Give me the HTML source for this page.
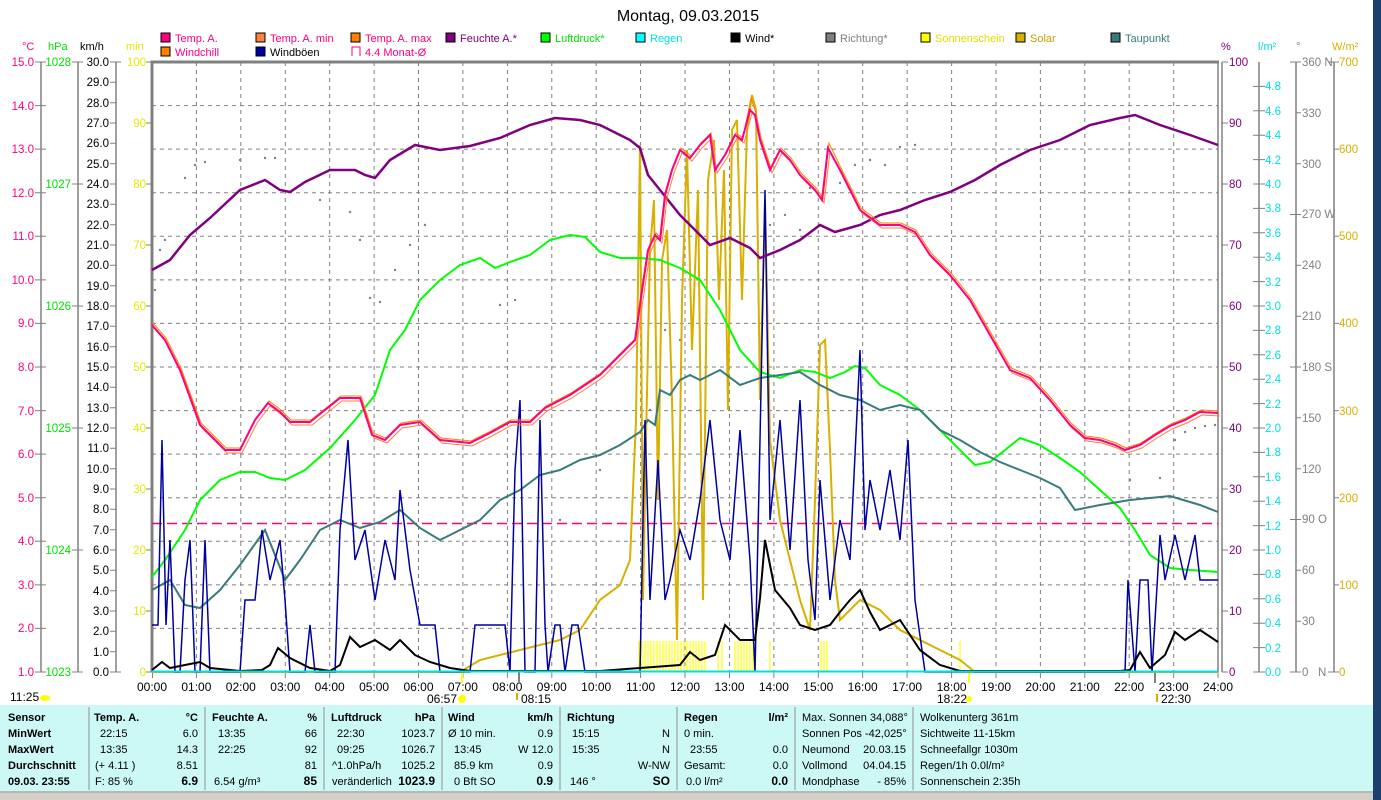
<!DOCTYPE html>
<html><head><meta charset="utf-8"><style>
html,body{margin:0;padding:0;background:#fff;}
svg{display:block;font-family:"Liberation Sans",sans-serif;}
</style></head><body>
<svg width="1381" height="800" viewBox="0 0 1381 800" xmlns="http://www.w3.org/2000/svg">
<rect x="0" y="0" width="1381" height="800" fill="#fff"/>
<rect x="1373" y="0" width="8" height="800" fill="#1d3f6e"/>
<text x="688" y="21" font-size="16" text-anchor="middle" fill="#000">Montag, 09.03.2015</text>
<g font-size="11">
<rect x="161" y="33" width="9" height="9" fill="#ff0080" stroke="#000"/><text x="175" y="42" fill="#ff0080">Temp. A.</text>
<rect x="256" y="33" width="9" height="9" fill="#ff8040" stroke="#000"/><text x="270" y="42" fill="#ff0080">Temp. A. min</text>
<rect x="351" y="33" width="9" height="9" fill="#ff8000" stroke="#000"/><text x="365" y="42" fill="#ff0080">Temp. A. max</text>
<rect x="446" y="33" width="9" height="9" fill="#800080" stroke="#000"/><text x="460" y="42" fill="#800080">Feuchte A.*</text>
<rect x="541" y="33" width="9" height="9" fill="#00ff00" stroke="#000"/><text x="555" y="42" fill="#00e000">Luftdruck*</text>
<rect x="636" y="33" width="9" height="9" fill="#00ffff" stroke="#000"/><text x="650" y="42" fill="#00e0e0">Regen</text>
<rect x="731" y="33" width="9" height="9" fill="#000" stroke="#000"/><text x="745" y="42" fill="#000">Wind*</text>
<rect x="826" y="33" width="9" height="9" fill="#808080" stroke="#000"/><text x="840" y="42" fill="#808080">Richtung*</text>
<rect x="921" y="33" width="9" height="9" fill="#ffff00" stroke="#000"/><text x="935" y="42" fill="#e0e000">Sonnenschein</text>
<rect x="1016" y="33" width="9" height="9" fill="#d8b000" stroke="#000"/><text x="1030" y="42" fill="#c8a000">Solar</text>
<rect x="1111" y="33" width="9" height="9" fill="#3a7a7a" stroke="#000"/><text x="1125" y="42" fill="#3a7a7a">Taupunkt</text>
<rect x="161" y="47" width="9" height="9" fill="#ff8000" stroke="#000"/><text x="175" y="56" fill="#ff0080">Windchill</text>
<rect x="256" y="47" width="9" height="9" fill="#0000a0" stroke="#000"/><text x="270" y="56" fill="#000">Windböen</text>
<path d="M352 56 V47 H360 V56" fill="none" stroke="#ff0080"/><text x="365" y="56" fill="#ff0080">4.4 Monat-Ø</text>
</g>
<g font-size="11">
<text x="22" y="50" fill="#ff0080">°C</text>
<text x="48" y="50" fill="#00e000">hPa</text>
<text x="80" y="50" fill="#000">km/h</text>
<text x="126" y="50" fill="#e8e800">min</text>
<text x="1221" y="50" fill="#800080">%</text>
<text x="1258" y="50" fill="#00e0e0">l/m²</text>
<text x="1296" y="50" fill="#808080">°</text>
<text x="1332" y="50" fill="#d8b000">W/m²</text>
</g>
<g stroke="#808080" stroke-dasharray="4,4" stroke-width="1">
<path d="M152 105.6H1218M152 149.1H1218M152 192.7H1218M152 236.3H1218M152 279.9H1218M152 323.4H1218M152 367H1218M152 410.6H1218M152 454.1H1218M152 497.7H1218M152 541.3H1218M152 584.9H1218M152 628.4H1218"/>
<path d="M196.4 62V672M240.8 62V672M285.3 62V672M329.7 62V672M374.1 62V672M418.5 62V672M462.9 62V672M507.4 62V672M551.8 62V672M596.2 62V672M640.6 62V672M685 62V672M729.5 62V672M773.9 62V672M818.3 62V672M862.7 62V672M907.1 62V672M951.6 62V672M996 62V672M1040.4 62V672M1084.8 62V672M1129.2 62V672M1173.7 62V672"/>
</g>
<path d="M152 672V62H1219" fill="none" stroke="#808080" stroke-width="3"/>
<path d="M1218 62V672M1222 62V672" stroke="#808080" stroke-width="1.5"/>
<g stroke="#808080" stroke-width="1.5" fill="none">
<path d="M41 62V672M78 62V672M116 62V672"/>
<path d="M1259 62V672M1296 62V672M1334 62V672"/>
</g>
<g font-size="11.5" fill="#ff0080" text-anchor="end">
<text x="34" y="66">15.0</text><text x="34" y="110">14.0</text><text x="34" y="153">13.0</text><text x="34" y="197">12.0</text><text x="34" y="240">11.0</text><text x="34" y="284">10.0</text><text x="34" y="327">9.0</text><text x="34" y="371">8.0</text><text x="34" y="415">7.0</text><text x="34" y="458">6.0</text><text x="34" y="502">5.0</text><text x="34" y="545">4.0</text><text x="34" y="589">3.0</text><text x="34" y="632">2.0</text><text x="34" y="676">1.0</text>
</g>
<g stroke="#808080"><path d="M35 62H46M35 105.6H46M35 149.1H46M35 192.7H46M35 236.3H46M35 279.9H46M35 323.4H46M35 367H46M35 410.6H46M35 454.1H46M35 497.7H46M35 541.3H46M35 584.9H46M35 628.4H46M35 672H46"/>
<path d="M72 62H83M72 184H83M72 306H83M72 428H83M72 550H83M72 672H83"/>
<path d="M110 62H121M110 82.3H116M110 102.7H116M110 123H116M110 143.3H116M110 163.7H116M110 184H116M110 204.3H116M110 224.7H116M110 245H116M110 265.3H116M110 285.7H116M110 306H116M110 326.3H116M110 346.7H116M110 367H116M110 387.3H116M110 407.7H116M110 428H116M110 448.3H116M110 468.7H116M110 489H116M110 509.3H116M110 529.7H116M110 550H116M110 570.3H116M110 590.7H116M110 611H116M110 631.3H116M110 651.7H116M110 672H121"/>
<path d="M146 62H152M146 123H152M146 184H152M146 245H152M146 306H152M146 367H152M146 428H152M146 489H152M146 550H152M146 611H152M146 672H152"/>
<path d="M1222 62H1228M1222 123H1228M1222 184H1228M1222 245H1228M1222 306H1228M1222 367H1228M1222 428H1228M1222 489H1228M1222 550H1228M1222 611H1228M1222 672H1228"/>
<path d="M1253 86.4H1265M1253 110.8H1265M1253 135.2H1265M1253 159.6H1265M1253 184H1265M1253 208.4H1265M1253 232.8H1265M1253 257.2H1265M1253 281.6H1265M1253 306H1265M1253 330.4H1265M1253 354.8H1265M1253 379.2H1265M1253 403.6H1265M1253 428H1265M1253 452.4H1265M1253 476.8H1265M1253 501.2H1265M1253 525.6H1265M1253 550H1265M1253 574.4H1265M1253 598.8H1265M1253 623.2H1265M1253 647.6H1265M1253 672H1265"/>
<path d="M1290 62H1301M1296 112.8H1301M1296 163.7H1301M1290 214.5H1301M1296 265.3H1301M1296 316.2H1301M1290 367H1301M1296 417.8H1301M1296 468.7H1301M1290 519.5H1301M1296 570.3H1301M1296 621.2H1301M1290 672H1301"/>
<path d="M1328 62H1339M1334 149.1H1339M1334 236.3H1339M1334 323.4H1339M1334 410.6H1339M1334 497.7H1339M1334 584.9H1339M1328 672H1339"/>
<path d="M152.5 672V678M196.4 672V678M240.8 672V678M285.3 672V678M329.7 672V678M374.1 672V678M418.5 672V678M462.9 672V678M507.4 672V678M551.8 672V678M596.2 672V678M640.6 672V678M685 672V678M729.5 672V678M773.9 672V678M818.3 672V678M862.7 672V678M907.1 672V678M951.6 672V678M996 672V678M1040.4 672V678M1084.8 672V678M1129.2 672V678M1173.7 672V678M1218 672V678"/>
</g>
<g font-size="11.5" fill="#00e000" text-anchor="end">
<text x="71" y="66">1028</text><text x="71" y="188">1027</text><text x="71" y="310">1026</text><text x="71" y="432">1025</text><text x="71" y="554">1024</text><text x="71" y="676">1023</text>
</g>
<g font-size="11.5" fill="#000" text-anchor="end">
<text x="109" y="66">30.0</text><text x="109" y="86">29.0</text><text x="109" y="107">28.0</text><text x="109" y="127">27.0</text><text x="109" y="147">26.0</text><text x="109" y="168">25.0</text><text x="109" y="188">24.0</text><text x="109" y="208">23.0</text><text x="109" y="229">22.0</text><text x="109" y="249">21.0</text><text x="109" y="269">20.0</text><text x="109" y="290">19.0</text><text x="109" y="310">18.0</text><text x="109" y="330">17.0</text><text x="109" y="351">16.0</text><text x="109" y="371">15.0</text><text x="109" y="391">14.0</text><text x="109" y="412">13.0</text><text x="109" y="432">12.0</text><text x="109" y="452">11.0</text><text x="109" y="473">10.0</text><text x="109" y="493">9.0</text><text x="109" y="513">8.0</text><text x="109" y="534">7.0</text><text x="109" y="554">6.0</text><text x="109" y="574">5.0</text><text x="109" y="595">4.0</text><text x="109" y="615">3.0</text><text x="109" y="635">2.0</text><text x="109" y="656">1.0</text><text x="109" y="676">0.0</text>
</g>
<g font-size="11.5" fill="#e8e800" text-anchor="end">
<text x="146" y="66">100</text><text x="146" y="127">90</text><text x="146" y="188">80</text><text x="146" y="249">70</text><text x="146" y="310">60</text><text x="146" y="371">50</text><text x="146" y="432">40</text><text x="146" y="493">30</text><text x="146" y="554">20</text><text x="146" y="615">10</text><text x="146" y="676">0</text>
</g>
<g font-size="11.5" fill="#800080">
<text x="1229" y="66">100</text><text x="1229" y="127">90</text><text x="1229" y="188">80</text><text x="1229" y="249">70</text><text x="1229" y="310">60</text><text x="1229" y="371">50</text><text x="1229" y="432">40</text><text x="1229" y="493">30</text><text x="1229" y="554">20</text><text x="1229" y="615">10</text><text x="1229" y="676">0</text>
</g>
<g font-size="11.5" fill="#00e0e0">
<text x="1265" y="90">4.8</text><text x="1265" y="115">4.6</text><text x="1265" y="139">4.4</text><text x="1265" y="164">4.2</text><text x="1265" y="188">4.0</text><text x="1265" y="212">3.8</text><text x="1265" y="237">3.6</text><text x="1265" y="261">3.4</text><text x="1265" y="286">3.2</text><text x="1265" y="310">3.0</text><text x="1265" y="334">2.8</text><text x="1265" y="359">2.6</text><text x="1265" y="383">2.4</text><text x="1265" y="408">2.2</text><text x="1265" y="432">2.0</text><text x="1265" y="456">1.8</text><text x="1265" y="481">1.6</text><text x="1265" y="505">1.4</text><text x="1265" y="530">1.2</text><text x="1265" y="554">1.0</text><text x="1265" y="578">0.8</text><text x="1265" y="603">0.6</text><text x="1265" y="627">0.4</text><text x="1265" y="652">0.2</text><text x="1265" y="676">0.0</text>
</g>
<g font-size="11.5" fill="#808080">
<text x="1302" y="66">360 N</text><text x="1302" y="117">330</text><text x="1302" y="168">300</text><text x="1302" y="218">270 W</text><text x="1302" y="269">240</text><text x="1302" y="320">210</text><text x="1302" y="371">180 S</text><text x="1302" y="422">150</text><text x="1302" y="473">120</text><text x="1302" y="523">90  O</text><text x="1302" y="574">60</text><text x="1302" y="625">30</text><text x="1302" y="676">0 &#160;&#160;N</text>
</g>
<g font-size="11.5" fill="#d8b000">
<text x="1339" y="66">700</text><text x="1339" y="153">600</text><text x="1339" y="240">500</text><text x="1339" y="327">400</text><text x="1339" y="415">300</text><text x="1339" y="502">200</text><text x="1339" y="589">100</text><text x="1339" y="676">0</text>
</g>
<g font-size="12" fill="#000" text-anchor="middle">
<text x="152" y="691">00:00</text><text x="196.4" y="691">01:00</text><text x="240.8" y="691">02:00</text><text x="285.3" y="691">03:00</text><text x="329.7" y="691">04:00</text><text x="374.1" y="691">05:00</text><text x="418.5" y="691">06:00</text><text x="462.9" y="691">07:00</text><text x="507.4" y="691">08:00</text><text x="551.8" y="691">09:00</text><text x="596.2" y="691">10:00</text><text x="640.6" y="691">11:00</text><text x="685" y="691">12:00</text><text x="729.5" y="691">13:00</text><text x="773.9" y="691">14:00</text><text x="818.3" y="691">15:00</text><text x="862.7" y="691">16:00</text><text x="907.1" y="691">17:00</text><text x="951.6" y="691">18:00</text><text x="996" y="691">19:00</text><text x="1040.4" y="691">20:00</text><text x="1084.8" y="691">21:00</text><text x="1129.2" y="691">22:00</text><text x="1173.7" y="691">23:00</text><text x="1218" y="691">24:00</text>
</g>
<g font-size="12" fill="#000">
<text x="10" y="701">11:25</text><ellipse cx="45" cy="698" rx="5" ry="3" fill="#ffff00"/>
<text x="427" y="703">06:57</text><circle cx="462" cy="699" r="4" fill="#ffff00"/>
<text x="521" y="703">08:15</text><path d="M517 693V700" stroke="#d8b000" stroke-width="2"/>
<text x="937" y="703">18:22</text><circle cx="969" cy="699" r="3" fill="#ffff00"/>
<text x="1161" y="703">22:30</text><path d="M1157 694V702" stroke="#d8b000" stroke-width="2"/>
</g>
<path d="M462 672V683M969 672V683" stroke="#ffff00" stroke-width="2"/>
<path d="M519 672V683M1155 672V683" stroke="#808080" stroke-width="2"/>
<g stroke="#ffff00" stroke-width="1.2">
<path d="M639 641V672M642 641V672M645 641V672M648 641V672M651 641V672M654 641V672M657 641V672M660 641V672M663 641V672M666 641V672M669 641V672M672 641V672M675 641V672M678 641V672M681 641V672M684 641V672M687 641V672M690 641V672M693 641V672M696 641V672M699 641V672M702 641V672M705 641V672M718 641V672M722 641V672M735 641V672M738 641V672M741 641V672M744 641V672M747 641V672M750 641V672M753 641V672M770 641V672M821 641V672M824 641V672M827 641V672M960 641V672"/>
</g>
<path d="M152 523.5H1218" stroke="#ff0080" stroke-dasharray="10,5" stroke-width="1.5"/>
<g fill="#808080">
<circle cx="160" cy="250" r="1.2"/><circle cx="165" cy="240" r="1.2"/><circle cx="155" cy="290" r="1.2"/><circle cx="185" cy="178" r="1.2"/><circle cx="195" cy="165" r="1.2"/><circle cx="205" cy="162" r="1.2"/><circle cx="240" cy="160" r="1.2"/><circle cx="265" cy="158" r="1.2"/><circle cx="275" cy="158" r="1.2"/><circle cx="320" cy="200" r="1.2"/><circle cx="350" cy="212" r="1.2"/><circle cx="360" cy="240" r="1.2"/><circle cx="370" cy="298" r="1.2"/><circle cx="380" cy="302" r="1.2"/><circle cx="395" cy="270" r="1.2"/><circle cx="410" cy="245" r="1.2"/><circle cx="425" cy="225" r="1.2"/><circle cx="500" cy="305" r="1.2"/><circle cx="515" cy="300" r="1.2"/><circle cx="560" cy="520" r="1.2"/><circle cx="600" cy="470" r="1.2"/><circle cx="650" cy="410" r="1.2"/><circle cx="665" cy="330" r="1.2"/><circle cx="680" cy="340" r="1.2"/><circle cx="700" cy="410" r="1.2"/><circle cx="770" cy="225" r="1.2"/><circle cx="785" cy="215" r="1.2"/><circle cx="800" cy="230" r="1.2"/><circle cx="810" cy="188" r="1.2"/><circle cx="840" cy="183" r="1.2"/><circle cx="855" cy="165" r="1.2"/><circle cx="870" cy="160" r="1.2"/><circle cx="885" cy="165" r="1.2"/><circle cx="900" cy="147" r="1.2"/><circle cx="915" cy="145" r="1.2"/><circle cx="1130" cy="480" r="1.2"/><circle cx="1160" cy="478" r="1.2"/><circle cx="1175" cy="440" r="1.2"/><circle cx="1185" cy="432" r="1.2"/><circle cx="1195" cy="428" r="1.2"/><circle cx="1205" cy="426" r="1.2"/><circle cx="1215" cy="425" r="1.2"/>
</g>
<polyline fill="none" stroke="#d8b000" stroke-width="2" points="152,672 460,672 480,660 500,655 520,650 540,645 560,640 580,630 600,600 620,585 630,560 636,420 640,145 643,600 646,440 650,250 654,200 658,500 662,260 667,230 672,400 677,640 682,300 687,150 692,350 698,190 703,600 708,180 714,140 719,300 724,170 728,410 732,130 737,120 742,300 747,130 752,95 756,110 760,400 765,200 770,440 780,520 790,560 800,600 810,630 815,500 820,345 825,340 830,450 835,580 840,620 860,600 880,610 900,630 920,640 940,650 960,660 975,672 1218,672"/>
<polyline fill="none" stroke="#00ff00" stroke-width="2" points="152,577 165,560 185,530 200,500 220,480 240,472 255,472 270,478 285,480 305,470 330,448 355,420 375,395 390,350 405,330 420,300 440,280 460,265 480,258 495,268 510,262 530,255 550,240 570,235 585,237 600,252 620,258 640,258 660,260 680,268 700,280 720,310 740,350 760,372 780,378 800,370 815,372 830,378 845,372 855,366 865,368 880,385 900,395 920,410 940,430 960,450 975,465 990,462 1005,450 1020,438 1040,445 1060,458 1080,472 1100,490 1120,508 1135,530 1150,555 1170,568 1190,570 1218,572"/>
<polyline fill="none" stroke="#3a7a7a" stroke-width="2" points="152,590 170,580 185,605 200,608 220,590 240,565 265,530 285,580 300,560 320,530 340,520 360,528 380,522 400,510 420,528 440,540 460,530 480,520 500,500 520,490 540,475 560,470 580,460 600,455 620,445 640,432 648,420 655,425 660,390 670,395 680,380 690,375 700,380 720,370 740,385 760,378 780,375 800,372 820,385 840,395 860,400 880,410 900,405 920,410 940,430 960,440 980,452 1000,462 1020,470 1040,478 1060,488 1075,510 1100,505 1130,500 1150,498 1170,496 1200,505 1218,512"/>
<polyline fill="none" stroke="#0000a0" stroke-width="1.5" points="152,625 158,625 162,440 166,625 170,540 175,672 180,672 185,580 190,540 195,672 200,672 205,540 210,672 240,672 245,600 255,600 262,530 270,580 280,540 285,600 290,672 305,672 310,625 315,672 335,672 340,530 348,440 355,560 365,530 375,600 385,540 395,580 400,490 410,570 420,625 435,625 440,672 470,672 475,625 505,625 510,672 515,470 520,400 525,672 535,672 540,420 545,625 548,672 555,625 560,625 565,672 572,625 578,625 585,672 640,672 645,420 650,600 658,460 665,600 670,580 680,530 690,560 700,500 710,420 720,520 730,560 740,430 750,560 755,672 760,440 765,190 770,520 780,420 790,550 800,400 808,560 815,620 820,480 830,600 840,520 850,560 860,350 865,530 870,480 880,530 890,470 900,540 908,440 915,600 925,672 1125,672 1128,580 1135,672 1140,580 1148,580 1152,672 1160,535 1165,580 1175,535 1185,580 1195,535 1200,580 1218,580"/>
<polyline fill="none" stroke="#000" stroke-width="2" points="152,670 162,662 170,668 190,664 200,662 210,668 240,671 262,670 270,665 278,648 290,658 310,668 330,671 340,665 350,637 360,647 375,640 390,650 400,640 415,655 430,662 450,668 470,671 600,671 680,665 690,652 700,660 715,655 725,625 740,640 755,640 760,598 765,540 775,590 790,608 800,625 815,630 830,625 840,612 850,600 860,590 870,612 880,630 900,620 920,650 940,665 960,671 1120,671 1130,670 1140,652 1150,668 1165,655 1175,632 1185,640 1200,630 1218,642"/>
<polyline fill="none" stroke="#800080" stroke-width="2.5" points="152,270 170,260 190,235 210,218 240,190 265,180 280,190 290,192 305,182 330,170 355,170 365,175 375,178 390,160 415,145 440,150 470,146 500,138 530,125 555,118 580,120 600,125 630,140 640,148 648,175 660,190 680,215 700,235 710,245 730,238 750,248 760,258 780,250 800,240 820,225 835,232 860,225 880,215 900,210 925,200 950,192 975,180 1000,165 1030,150 1060,140 1090,125 1120,118 1135,115 1160,125 1190,135 1218,145"/>
<polyline fill="none" stroke="#ff8000" stroke-width="1" transform="translate(1,-2)" points="152,325 165,340 180,370 200,425 225,450 240,450 255,420 268,403 280,412 290,422 310,422 325,410 340,398 360,398 372,435 385,440 400,425 420,422 440,440 470,443 490,433 510,422 530,422 545,408 570,395 600,375 625,350 635,340 642,290 648,250 655,235 660,240 665,195 672,170 680,150 690,158 700,145 710,135 715,170 725,155 735,135 742,140 750,100 755,115 760,140 770,170 780,150 790,160 800,175 815,190 822,200 828,145 840,170 860,210 880,225 900,225 915,232 930,255 950,275 970,300 990,335 1010,370 1030,378 1050,400 1070,425 1085,438 1100,440 1115,445 1125,450 1140,445 1155,435 1170,426 1185,420 1200,412 1218,413"/>
<polyline fill="none" stroke="#ff8040" stroke-width="1" transform="translate(2,3)" points="152,325 165,340 180,370 200,425 225,450 240,450 255,420 268,403 280,412 290,422 310,422 325,410 340,398 360,398 372,435 385,440 400,425 420,422 440,440 470,443 490,433 510,422 530,422 545,408 570,395 600,375 625,350 635,340 642,290 648,250 655,235 660,240 665,195 672,170 680,150 690,158 700,145 710,135 715,170 725,155 735,135 742,140 750,110 755,115 760,140 770,170 780,150 790,160 800,175 815,190 822,200 828,148 840,170 860,210 880,225 900,225 915,232 930,255 950,275 970,300 990,335 1010,370 1030,378 1050,400 1070,425 1085,438 1100,440 1115,445 1125,450 1140,445 1155,435 1170,426 1185,420 1200,412 1218,413"/>
<polyline fill="none" stroke="#ff0080" stroke-width="2" points="152,325 165,340 180,370 200,425 225,450 240,450 255,420 268,403 280,412 290,422 310,422 325,410 340,398 360,398 372,435 385,440 400,425 420,422 440,440 470,443 490,433 510,422 530,422 545,408 570,395 600,375 625,350 635,340 642,290 648,250 655,235 660,240 665,195 672,170 680,150 690,158 700,145 710,135 715,170 725,155 735,135 742,140 750,110 755,115 760,140 770,170 780,150 790,160 800,175 815,190 822,200 828,148 840,170 860,210 880,225 900,225 915,232 930,255 950,275 970,300 990,335 1010,370 1030,378 1050,400 1070,425 1085,438 1100,440 1115,445 1125,450 1140,445 1155,435 1170,426 1185,420 1200,412 1218,413"/>
<path d="M152 671.5H1218" stroke="#00e0e0" stroke-width="2"/>
<rect x="0" y="705" width="1373" height="86" fill="#ccf8f6"/>
<rect x="0" y="791" width="1373" height="9" fill="#d4d0c8"/>
<path d="M0 792H1373" stroke="#a0a0a0"/>
<g stroke="#909090"><path d="M89 707V790M205 707V790M324 707V790M442 707V790M560 707V790M677 707V790M795 707V790M913 707V790"/></g>
<g font-size="11" fill="#000">
<g font-weight="bold"><text x="8" y="721">Sensor</text><text x="8" y="737">MinWert</text><text x="8" y="753">MaxWert</text><text x="8" y="769">Durchschnitt</text><text x="8" y="785">09.03. 23:55</text>
<text x="94" y="721">Temp. A.</text><text x="198" y="721" text-anchor="end">°C</text><text x="198" y="785" text-anchor="end" font-size="12">6.9</text>
<text x="212" y="721">Feuchte A.</text><text x="317" y="721" text-anchor="end">%</text><text x="317" y="785" text-anchor="end" font-size="12">85</text>
<text x="331" y="721">Luftdruck</text><text x="435" y="721" text-anchor="end">hPa</text><text x="435" y="785" text-anchor="end" font-size="12">1023.9</text>
<text x="448" y="721">Wind</text><text x="553" y="721" text-anchor="end">km/h</text><text x="553" y="785" text-anchor="end" font-size="12">0.9</text>
<text x="567" y="721">Richtung</text><text x="670" y="785" text-anchor="end" font-size="12">SO</text>
<text x="684" y="721">Regen</text><text x="788" y="721" text-anchor="end">l/m²</text><text x="788" y="785" text-anchor="end" font-size="12">0.0</text></g>
<text x="100" y="737">22:15</text><text x="198" y="737" text-anchor="end">6.0</text>
<text x="100" y="753">13:35</text><text x="198" y="753" text-anchor="end">14.3</text>
<text x="95" y="769">(+ 4.11 )</text><text x="198" y="769" text-anchor="end">8.51</text>
<text x="95" y="785">F: 85 %</text>
<text x="218" y="737">13:35</text><text x="317" y="737" text-anchor="end">66</text>
<text x="218" y="753">22:25</text><text x="317" y="753" text-anchor="end">92</text>
<text x="317" y="769" text-anchor="end">81</text>
<text x="214" y="785">6.54 g/m³</text>
<text x="337" y="737">22:30</text><text x="435" y="737" text-anchor="end">1023.7</text>
<text x="337" y="753">09:25</text><text x="435" y="753" text-anchor="end">1026.7</text>
<text x="332" y="769">^1.0hPa/h</text><text x="435" y="769" text-anchor="end">1025.2</text>
<text x="332" y="785">veränderlich</text>
<text x="448" y="737">Ø 10 min.</text><text x="553" y="737" text-anchor="end">0.9</text>
<text x="454" y="753">13:45</text><text x="553" y="753" text-anchor="end">W 12.0</text>
<text x="454" y="769">85.9 km</text><text x="553" y="769" text-anchor="end">0.9</text>
<text x="454" y="785">0 Bft SO</text>
<text x="572" y="737">15:15</text><text x="670" y="737" text-anchor="end">N</text>
<text x="572" y="753">15:35</text><text x="670" y="753" text-anchor="end">N</text>
<text x="670" y="769" text-anchor="end">W-NW</text>
<text x="570" y="785">146 °</text>
<text x="684" y="737">0 min.</text>
<text x="690" y="753">23:55</text><text x="788" y="753" text-anchor="end">0.0</text>
<text x="684" y="769">Gesamt:</text><text x="788" y="769" text-anchor="end">0.0</text>
<text x="686" y="785">0.0 l/m²</text>
<text x="802" y="721">Max. Sonnen 34,088°</text>
<text x="802" y="737">Sonnen Pos  -42,025°</text>
<text x="802" y="753">Neumond</text><text x="906" y="753" text-anchor="end">20.03.15</text>
<text x="802" y="769">Vollmond</text><text x="906" y="769" text-anchor="end">04.04.15</text>
<text x="802" y="785">Mondphase</text><text x="906" y="785" text-anchor="end">- 85%</text>
<text x="920" y="721">Wolkenunterg  361m</text>
<text x="920" y="737">Sichtweite   11-15km</text>
<text x="920" y="753">Schneefallgr  1030m</text>
<text x="920" y="769">Regen/1h     0.0l/m²</text>
<text x="920" y="785">Sonnenschein  2:35h</text>
</g>
</svg>
</body></html>
